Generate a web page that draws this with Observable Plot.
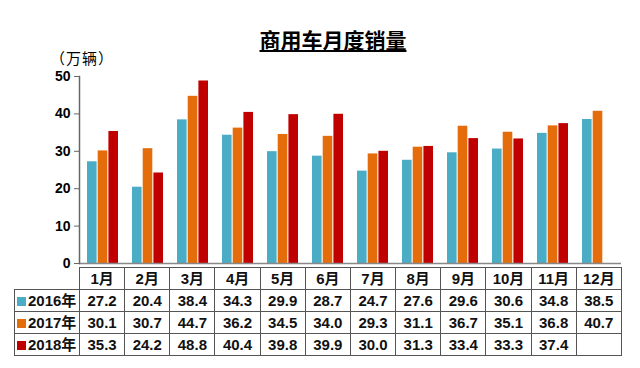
<!DOCTYPE html>
<html>
<head>
<meta charset="utf-8">
<script src="https://cdn.jsdelivr.net/npm/d3@7"></script>
<script src="https://cdn.jsdelivr.net/npm/@observablehq/plot@0.6"></script>
<style>
  html, body { margin: 0; padding: 0; background: #fff; }
  #wrap { position: relative; width: 640px; height: 368px; overflow: hidden;
          font-family: "Liberation Sans", Arial, "Noto Sans CJK SC", sans-serif; }
  #title { position: absolute; left: 0; width: 666px; top: 27px; text-align: center;
           font-size: 21px; font-weight: bold; text-decoration: underline; color: #000;
           font-family: "Noto Sans CJK SC", sans-serif; line-height: 24px; }
  #unit { position: absolute; left: 50px; top: 50px; font-size: 15px; color: #000;
          font-family: "Noto Sans CJK SC", sans-serif; line-height: 15px; letter-spacing: 1px; }
  #chart { position: absolute; left: 0; top: 0; }
  #tbl { position: absolute; left: 14px; top: 267px; border-collapse: collapse; table-layout: fixed;
         font-weight: bold; font-size: 15px; color: #111; }
  #tbl td { border: 1.5px solid #555; text-align: center; padding: 0; height: 21px; line-height: 20px;
            white-space: nowrap; }
  #tbl td.blank { border: none; border-bottom: 1.5px solid #555; }
  #tbl td.lab { text-align: left; padding-left: 2px; }
  .sw { display: inline-block; width: 9px; height: 9px; margin-right: 2px; vertical-align: 0px; }
</style>
</head>
<body>
<div id="wrap">
  <div id="chart"></div>
  <div id="title">商用车月度销量</div>
  <div id="unit">（万辆）</div>
  <table id="tbl"></table>
</div>
<script>
const months = ["1月","2月","3月","4月","5月","6月","7月","8月","9月","10月","11月","12月"];
const years = ["2016年","2017年","2018年"];
const s2016 = [27.2,20.4,38.4,34.3,29.9,28.7,24.7,27.6,29.6,30.6,34.8,38.5];
const s2017 = [30.1,30.7,44.7,36.2,34.5,34.0,29.3,31.1,36.7,35.1,36.8,40.7];
const s2018 = [35.3,24.2,48.8,40.4,39.8,39.9,30.0,31.3,33.4,33.3,37.4,null];
const yTicks = [0,10,20,30,40,50];
const colors = ["#4BACC6","#E46C0A","#C00000"];

const seriesList = [s2016, s2017, s2018];
const rows = (s, yi) => months.map((m, i) => ({month: m, year: years[yi], value: s[i]})).filter(d => d.value != null);

const bw = 9.7, gap = 1, band = 31.1;
const insets = [
  {insetLeft: 0, insetRight: band - bw},
  {insetLeft: bw + gap, insetRight: bw + gap},
  {insetLeft: band - bw, insetRight: 0}
];

const plot = Plot.plot({
  width: 640,
  height: 368,
  marginLeft: 79,
  marginRight: 19,
  marginTop: 76,
  marginBottom: 105,
  style: {fontFamily: "Liberation Sans, Arial, sans-serif", background: "transparent"},
  x: {domain: months, type: "band", paddingInner: 0.31, paddingOuter: 0.155, axis: null},
  y: {domain: [0, 50], ticks: yTicks, axis: null},
  marks: [
    ...seriesList.map((s, i) => Plot.barY(rows(s, i), {x: "month", y: "value", fill: colors[i], ...insets[i]})),
    Plot.ruleY([0], {stroke: "#888", strokeWidth: 1.5}),
    Plot.frame({anchor: "left", stroke: "#666", strokeWidth: 1.5}),
    Plot.axisY(yTicks, {label: null, tickSize: 5, tickPadding: 4, fontSize: 14, fontWeight: "bold", stroke: "#666", fill: "#000", tickFormat: d => d})
  ]
});
document.getElementById("chart").appendChild(plot);

// table
const tbl = document.getElementById("tbl");
const colW = 45.17;
const colgroup = document.createElement("colgroup");
const c0 = document.createElement("col"); c0.style.width = "65px"; colgroup.appendChild(c0);
months.forEach(() => { const c = document.createElement("col"); c.style.width = colW + "px"; colgroup.appendChild(c); });
tbl.appendChild(colgroup);
const hr = document.createElement("tr");
const blank = document.createElement("td"); blank.className = "blank"; hr.appendChild(blank);
months.forEach(m => { const td = document.createElement("td"); td.textContent = m; hr.appendChild(td); });
tbl.appendChild(hr);
seriesList.forEach((s, i) => {
  const tr = document.createElement("tr");
  const lab = document.createElement("td"); lab.className = "lab";
  const sw = document.createElement("span"); sw.className = "sw"; sw.style.background = colors[i];
  lab.appendChild(sw); lab.appendChild(document.createTextNode(years[i]));
  tr.appendChild(lab);
  s.forEach(v => { const td = document.createElement("td"); td.textContent = v == null ? "" : v.toFixed(1); tr.appendChild(td); });
  tbl.appendChild(tr);
});
</script>
</body>
</html>
